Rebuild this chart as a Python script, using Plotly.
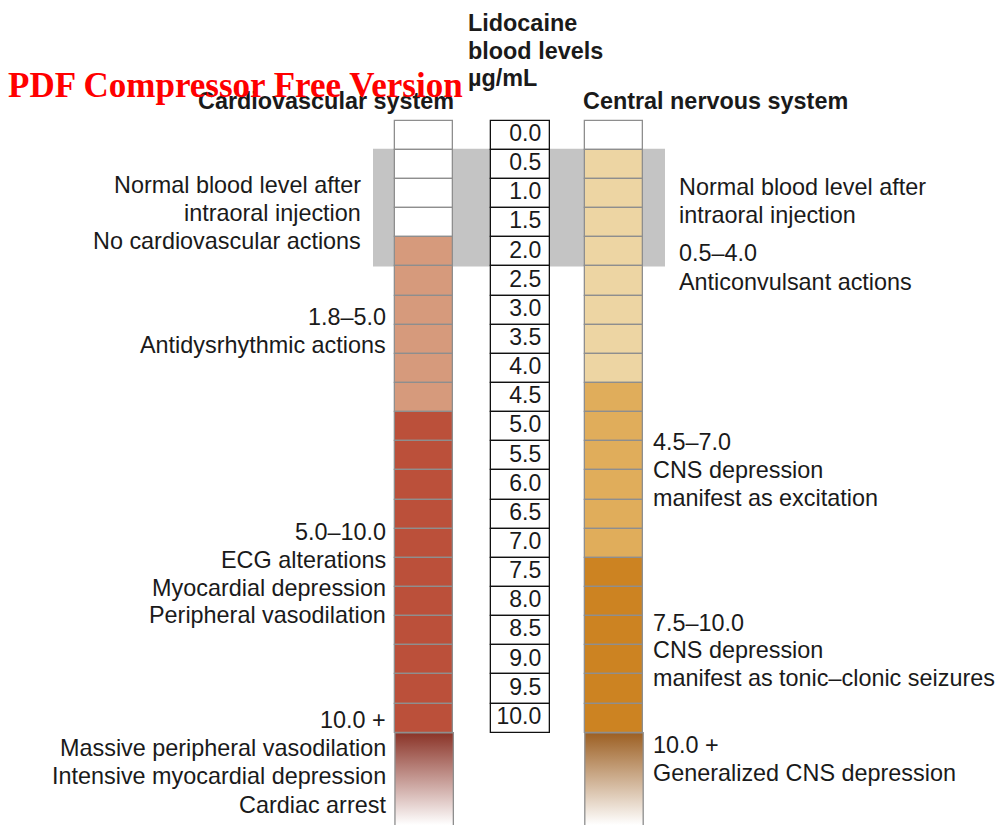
import plotly.graph_objects as go

# Lidocaine blood levels (µg/mL), one cell per half-unit step
levels = [0.0, 0.5, 1.0, 1.5, 2.0, 2.5, 3.0, 3.5, 4.0, 4.5, 5.0,
          5.5, 6.0, 6.5, 7.0, 7.5, 8.0, 8.5, 9.0, 9.5, 10.0]
level_labels = ["0.0", "0.5", "1.0", "1.5", "2.0", "2.5", "3.0", "3.5", "4.0", "4.5", "5.0",
                "5.5", "6.0", "6.5", "7.0", "7.5", "8.0", "8.5", "9.0", "9.5", "10.0"]

# Zones: level where each colour band starts
cv_zone_start = [0.0, 2.0, 5.0]
cv_zone_color = ["#ffffff", "#d69a7c", "#bb503a"]
cns_zone_start = [0.0, 0.5, 4.5, 7.5]
cns_zone_color = ["#ffffff", "#edd5a3", "#e0ad5b", "#cc8322"]

# Beyond 10.0: fading bands
cv_over_color = "#8a3327"
cns_over_color = "#9c5f22"

# Normal blood level after intraoral injection
normal_range = [0.5, 2.5]

STEP = 0.5
Y_TOP, Y_BOTTOM = -2.071, 12.083   # visible level range (top to bottom)
H = 825.0


def zone_colors(starts, colors):
    out = []
    for v in levels:
        c = colors[0]
        for s, col in zip(starts, colors):
            if v >= s:
                c = col
        out.append(c)
    return out


def py(px):
    """pixel row -> paper coordinate"""
    return 1 - px / H


CV_X, CENTER_X, CNS_X = 424.15, 520.3, 614.0
COL_W = 58.4
GRAY_EDGE = "#8e8e8e"
TEXT = "#1a1a1a"
FONT = "Liberation Sans, Arial, Helvetica, sans-serif"

fig = go.Figure()

# columns of cells
for xc, cols, edge in [
    (CV_X, zone_colors(cv_zone_start, cv_zone_color), GRAY_EDGE),
    (CENTER_X, ["#ffffff"] * len(levels), "#111111"),
    (CNS_X, zone_colors(cns_zone_start, cns_zone_color), GRAY_EDGE),
]:
    fig.add_trace(go.Bar(
        x=[xc] * len(levels), y=[STEP] * len(levels), base=levels,
        width=COL_W, marker=dict(color=cols, line=dict(color=edge, width=1.3)),
        hoverinfo="skip", showlegend=False,
    ))

# fading bands above 10.0
top = levels[-1] + STEP
for xc, col in [(CV_X, cv_over_color), (CNS_X, cns_over_color)]:
    x0, x1 = xc - COL_W / 2, xc + COL_W / 2
    fig.add_trace(go.Scatter(
        x=[x0, x1, x1, x0, x0], y=[top, top, Y_BOTTOM + 0.3, Y_BOTTOM + 0.3, top],
        mode="lines", fill="toself",
        fillgradient=dict(type="vertical", colorscale=[[0, col], [1, "#ffffff"]],
                          start=top, stop=Y_BOTTOM),
        line=dict(color=GRAY_EDGE, width=1.3),
        hoverinfo="skip", showlegend=False,
    ))

# level numbers
fig.add_trace(go.Scatter(
    x=[CENTER_X + 21] * len(levels), y=[v + STEP / 2 for v in levels],
    mode="text", text=level_labels, textposition="middle left",
    textfont=dict(family=FONT, size=23, color=TEXT),
    hoverinfo="skip", showlegend=False,
))

# grey band marking the normal level
fig.add_shape(type="rect", xref="x", yref="y", x0=373, x1=665,
              y0=normal_range[0] - 0.02, y1=normal_range[1],
              fillcolor="#c4c4c4", line=dict(width=0), layer="below")


def label(text, x, ypx, anchor, size=23.4, bold=False, color=TEXT, family=FONT):
    fig.add_annotation(
        text=f"<b>{text}</b>" if bold else text,
        x=x, xref="x", y=py(ypx), yref="paper",
        xanchor=anchor, yanchor="middle", showarrow=False,
        xshift=3 if anchor == "right" else -2,
        font=dict(family=family, size=size, color=color),
    )


# headings
label("Lidocaine", 468, 23.5, "left", bold=True)
label("blood levels", 468, 51.5, "left", bold=True)
label("µg/mL", 468, 78, "left", bold=True)
label("Cardiovascular system", 452.5, 101, "right", bold=True)
label("Central nervous system", 583, 100.5, "left", bold=True)

# cardiovascular effects
cv_notes = [
    ("Normal blood level after", 360, 185), ("intraoral injection", 360, 213),
    ("No cardiovascular actions", 360, 241),
    ("1.8–5.0", 385, 317), ("Antidysrhythmic actions", 385, 345),
    ("5.0–10.0", 385, 531.5), ("ECG alterations", 385, 560),
    ("Myocardial depression", 385, 588), ("Peripheral vasodilation", 385, 615),
    ("10.0 +", 385, 720), ("Massive peripheral vasodilation", 385, 748),
    ("Intensive myocardial depression", 385, 776), ("Cardiac arrest", 385, 804.5),
]
for t, x, y in cv_notes:
    label(t, x, y, "right")

# central nervous system effects
cns_notes = [
    ("Normal blood level after", 679, 186.5), ("intraoral injection", 679, 215),
    ("0.5–4.0", 679, 253.5), ("Anticonvulsant actions", 679, 281.5),
    ("4.5–7.0", 653, 441.5), ("CNS depression", 653, 470),
    ("manifest as excitation", 653, 498),
    ("7.5–10.0", 653, 623), ("CNS depression", 653, 650),
    ("manifest as tonic–clonic seizures", 653, 678),
    ("10.0 +", 653, 745), ("Generalized CNS depression", 653, 772.5),
]
for t, x, y in cns_notes:
    label(t, x, y, "left")

# red stamp line across the header
label("PDF Compressor Free Version", 8, 85, "left", size=35, bold=True,
      color="#ff0000", family="Liberation Serif, Times New Roman, serif")

fig.update_layout(
    width=996, height=825, margin=dict(l=0, r=0, t=0, b=0),
    paper_bgcolor="white", plot_bgcolor="white",
    barmode="overlay", bargap=0, showlegend=False,
    xaxis=dict(range=[0, 996], visible=False, fixedrange=True),
    yaxis=dict(range=[Y_BOTTOM, Y_TOP], visible=False, fixedrange=True),
)

fig.write_html("out.html", config={"displayModeBar": False})
